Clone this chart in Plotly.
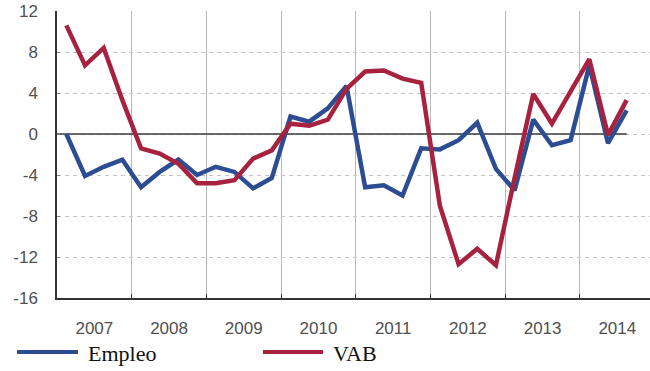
import plotly.graph_objects as go

years = ["2007", "2008", "2009", "2010", "2011", "2012", "2013", "2014"]
quarter_index = list(range(31))  # 2007Q1 .. 2014Q3

empleo = [0.0, -4.1, -3.2, -2.5,
          -5.2, -3.7, -2.5, -4.0,
          -3.2, -3.7, -5.3, -4.3,
          1.7, 1.2, 2.5, 4.7,
          -5.2, -5.0, -6.0, -1.4,
          -1.5, -0.6, 1.1, -3.4,
          -5.5, 1.4, -1.1, -0.6,
          6.7, -0.9, 2.3]

vab = [10.6, 6.7, 8.4, 3.3,
       -1.4, -1.9, -2.9, -4.8,
       -4.8, -4.5, -2.4, -1.6,
       1.0, 0.8, 1.4, 4.4,
       6.1, 6.2, 5.4, 5.0,
       -7.0, -12.7, -11.2, -12.8,
       -4.3, 3.9, 1.0, 4.2,
       7.3, -0.1, 3.3]

y_ticks = [12, 8, 4, 0, -4, -8, -12, -16]
series_names = ["Empleo", "VAB"]
BLUE = "#2c4d92"
RED = "#a6223f"

year_centers = [i * 4 + 1.5 for i in range(len(years))]
year_bounds = [i * 4 - 0.5 for i in range(1, len(years))]

fig = go.Figure()

# zero reference line spanning the data period only
fig.add_shape(type="line", xref="x", yref="y", x0=-0.5, x1=quarter_index[-1], y0=0, y1=0,
              line=dict(color="#3a3a3a", width=1.3), layer="between")

fig.add_trace(go.Scatter(x=quarter_index, y=empleo, mode="lines", name=series_names[0],
                         line=dict(color=BLUE, width=4.5), showlegend=False))
fig.add_trace(go.Scatter(x=quarter_index, y=vab, mode="lines", name=series_names[1],
                         line=dict(color=RED, width=4.5), showlegend=False))

# custom legend (long line samples + serif text)
legend_items = [(series_names[0], BLUE, 17, 78, 86), (series_names[1], RED, 263, 323, 331)]
for name, col, x0, x1, xt in legend_items:
    fig.add_shape(type="line", xref="paper", yref="paper",
                  x0=(x0 - 57) / 593, x1=(x1 - 57) / 593,
                  y0=(298 - 352) / 287, y1=(298 - 352) / 287,
                  line=dict(color=col, width=4))
    fig.add_annotation(text=name, xref="paper", yref="paper",
                       x=(xt - 57) / 593, y=(298 - 353) / 287,
                       xanchor="left", yanchor="middle", showarrow=False,
                       font=dict(family="Liberation Serif, Times New Roman, serif", size=22, color="#111"))

fig.update_layout(
    width=650, height=371,
    margin=dict(l=57, r=0, t=11, b=73),
    paper_bgcolor="white", plot_bgcolor="white",
    font=dict(family="Liberation Sans, Arial, sans-serif", size=17, color="#505050"),
    xaxis=dict(range=[-0.5, 31.25], tickmode="array", tickvals=year_centers, ticktext=years,
               automargin=False,
               showgrid=False, zeroline=False, ticks="", ticklabelstandoff=14,
               showline=True, linecolor="#333", linewidth=1.5,
               minor=dict(tickmode="array", tickvals=year_bounds, showgrid=True,
                          gridcolor="#b8b8b8", gridwidth=1, ticks="inside",
                          ticklen=4, tickcolor="#333")),
    yaxis=dict(range=[-16, 12], tickmode="array", tickvals=y_ticks,
               ticktext=[str(v) for v in y_ticks], automargin=False,
               showgrid=True, gridcolor="#c4c4c4", griddash="4px,4px", gridwidth=1,
               zeroline=False,
               showline=True, linecolor="#333", linewidth=1.5,
               ticks="inside", ticklen=3, tickcolor="#888", ticklabelstandoff=14),
)

fig.write_html("out.html", config={"displayModeBar": False},
               post_script="document.body.style.margin='0';document.body.style.overflow='hidden';")
